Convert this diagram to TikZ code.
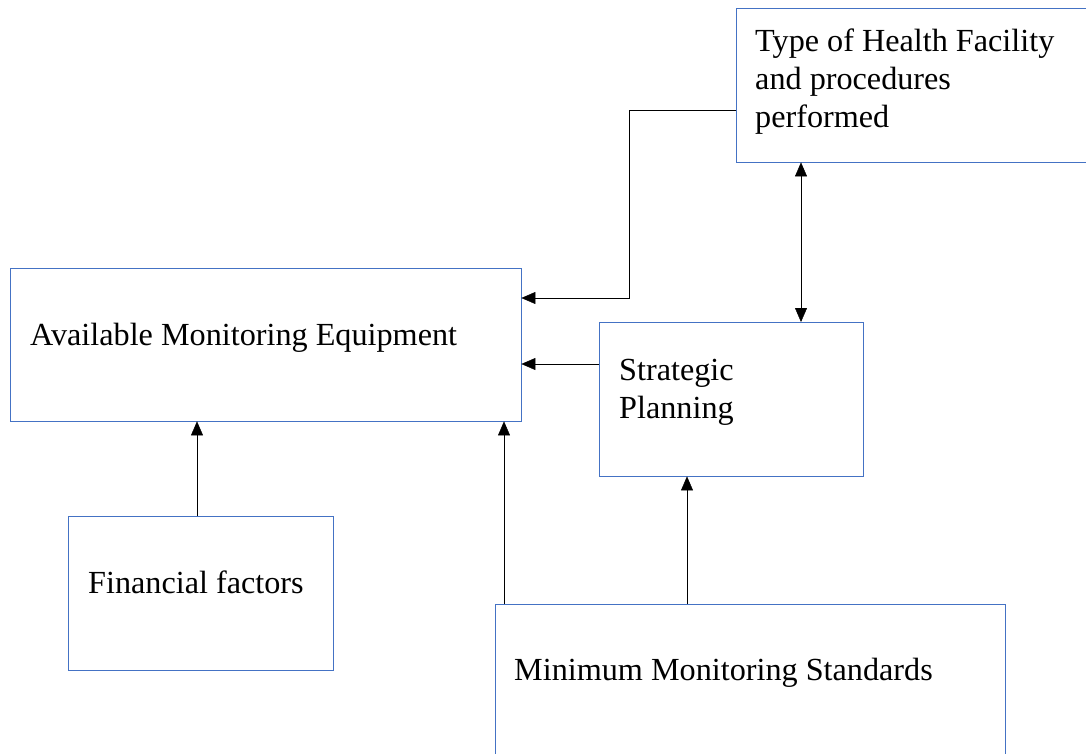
\documentclass[tikz,border=0pt]{standalone}
\usepackage{fontspec}
\setmainfont{Liberation Serif}
\usetikzlibrary{positioning, arrows.meta}
\definecolor{boxblue}{RGB}{68,114,196}
\tikzset{
>={Triangle[length=14pt, width=12pt]}, % filled arrow heads
line width=2pt, % thickness of all lines
box/.style={draw=boxblue, rectangle, inner sep=0pt, anchor=north west}, % the frames
txt/.style={inner sep=0pt, anchor=base west, align=left, font=\fontsize{32.2}{38}\selectfont}, % the labels (base = last line)
}
\begin{document}
\begin{tikzpicture}[x=1pt, y=-1pt]
                \clip (0,0) rectangle (1086,754);
                \fill[white] (0,0) rectangle (1086,754);

                \node[box, minimum width=380pt, minimum height=154pt] at (736,8) (facility) {};
                \node[box, minimum width=511pt, minimum height=153pt] at (10,268) (equip) {};
                \node[box, minimum width=264pt, minimum height=154pt] at (599,322) (strategic) {};
                \node[box, minimum width=265pt, minimum height=154pt] at (68,516) (finance) {};
                \node[box, minimum width=510pt, minimum height=200pt] at (495,604) (standards) {};

                \node[txt] at (755,128) (facilitytxt) {Type of Health Facility\\and procedures\\performed};
                \node[txt] at (30,345) (equiptxt) {Available Monitoring Equipment};
                \node[txt] at (619,418) (strategictxt) {Strategic\\Planning};
                \node[txt] at (88,593) (financetxt) {Financial factors};
                \node[txt] at (514,680) (standardstxt) {Minimum Monitoring Standards};

                \draw[->] (facility.west |- 0,110) -| (629,298) -- (equip.east |- 0,298);
                \draw[<->] (facility.south -| 801,0) -- (strategic.north -| 801,0);
                \draw[->] (strategic.west |- 0,364) -- (equip.east |- 0,364);
                \draw[->] (finance.north -| 197,0) -- (equip.south -| 197,0);
                \draw[->] (standards.north -| 504,0) -- (equip.south -| 504,0);
                \draw[->] (standards.north -| 687,0) -- (strategic.south -| 687,0);
            \end{tikzpicture}
\end{document}
